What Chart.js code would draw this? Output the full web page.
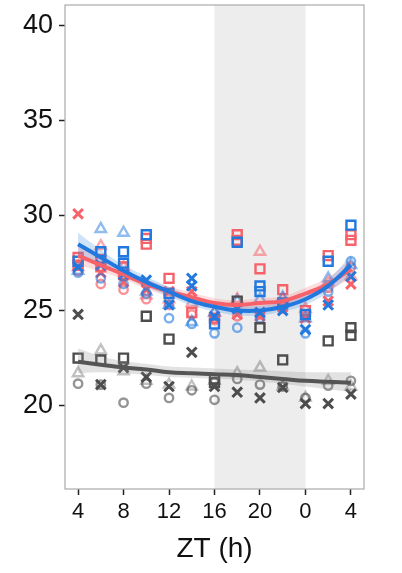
<!DOCTYPE html>
<html>
<head>
<meta charset="utf-8">
<script src="https://cdn.jsdelivr.net/npm/chart.js@4"></script>
<style>
  html, body { margin: 0; padding: 0; background: #fff; }
  #wrap { width: 402px; height: 573px; }
</style>
</head>
<body>
<div id="wrap"><canvas id="myChart" width="402" height="573"></canvas></div>
<script>
// time of day in hours (4 .. 28, 28 shown as 4 again) //
const hours = [4, 6, 8, 10, 12, 14, 16, 18, 20, 22, 24, 26, 28];
const xTicks = [4, 8, 12, 16, 20, 24, 28];
const yTicks = [20, 25, 30, 35, 40];

// blue group, one pair of arrays per marker shape //
const blueTriX = [4, 6, 8, 10, 12, 14, 16, 18, 20, 22, 24, 26, 28];
const blueTriY = [27.1, 29.3, 29.1, 26.0, 25.3, 24.4, 24.9, 25.5, 25.6, 25.7, 24.6, 26.7, 27.4];
const blueSqX = [4, 6, 8, 8, 10, 12, 16, 18, 20, 20, 22, 24, 26, 28];
const blueSqY = [27.6, 28.1, 28.1, 27.5, 29.0, 25.9, 24.3, 28.6, 26.3, 26.0, 25.4, 24.8, 27.6, 29.5];
const blueXX = [4, 6, 8, 10, 12, 14, 14, 16, 18, 20, 22, 24, 26, 28];
const blueXY = [27.3, 27.4, 26.9, 26.6, 25.3, 26.7, 26.3, 24.7, 25.1, 24.9, 25.0, 24.0, 25.3, 26.8];
const blueCirX = [4, 6, 8, 10, 12, 14, 16, 18, 20, 22, 24, 26, 28];
const blueCirY = [27.0, 26.7, 26.4, 25.9, 24.6, 24.3, 23.8, 24.1, 24.6, 25.3, 23.8, 26.0, 27.6];

// red group //
const redTriX = [4, 6, 8, 10, 12, 14, 16, 18, 20, 22, 24, 26, 28];
const redTriY = [27.3, 28.4, 27.3, 25.8, 25.6, 25.4, 24.9, 25.6, 28.1, 25.6, 25.1, 26.5, 26.8];
const redSqX = [4, 4, 6, 6, 8, 8, 10, 10, 12, 14, 16, 18, 18, 20, 22, 24, 26, 28, 28];
const redSqY = [27.8, 27.4, 27.7, 27.3, 27.3, 26.9, 28.8, 28.5, 26.7, 24.9, 24.6, 29.0, 28.7, 27.2, 26.1, 25.0, 27.9, 29.0, 28.7];
const redXX = [4, 6, 8, 10, 12, 14, 16, 18, 20, 22, 24, 26, 28];
const redXY = [30.1, 27.0, 26.5, 26.1, 26.0, 26.0, 24.6, 24.8, 24.7, 25.2, 24.6, 25.5, 26.4];
const redCirX = [4, 6, 8, 10, 12, 14, 16, 18, 20, 22, 24, 26, 28];
const redCirY = [27.1, 26.4, 26.1, 25.6, 25.3, 24.8, 24.5, 24.7, 24.8, 25.1, 24.7, 26.2, 27.3];

// gray group //
const grayTriX = [4, 6, 8, 10, 12, 14, 16, 18, 20, 22, 24, 26, 28];
const grayTriY = [21.7, 22.9, 21.8, 21.3, 21.1, 21.0, 21.3, 21.7, 22.0, 21.0, 20.4, 21.3, 21.0];
const graySqX = [4, 6, 8, 10, 12, 16, 16, 18, 20, 22, 26, 28, 28];
const graySqY = [22.5, 22.4, 22.5, 24.7, 23.5, 21.4, 21.2, 25.5, 24.1, 22.4, 23.4, 24.1, 23.7];
const grayXX = [4, 6, 8, 10, 12, 14, 16, 18, 20, 22, 24, 26, 28];
const grayXY = [24.8, 21.1, 22.0, 21.5, 21.0, 22.8, 21.0, 20.7, 20.4, 20.95, 20.1, 20.1, 20.6];
const grayCirX = [4, 6, 8, 10, 12, 14, 16, 18, 20, 22, 24, 26, 28];
const grayCirY = [21.15, 21.1, 20.15, 21.15, 20.4, 20.8, 20.3, 21.4, 21.1, 21.0, 20.4, 21.05, 21.3];

// smoothed fits and their bands, read at each hour //
const blueFit = [28.5, 27.8, 27.1, 26.5, 26.0, 25.5, 25.2, 25.0, 25.0, 25.2, 25.6, 26.3, 27.4];
const blueUp = [29.1, 28.2, 27.4, 26.8, 26.25, 25.75, 25.45, 25.25, 25.25, 25.45, 25.9, 26.65, 27.9];
const blueLo = [27.9, 27.4, 26.8, 26.25, 25.75, 25.25, 24.95, 24.75, 24.75, 24.95, 25.3, 25.95, 26.9];
const redFit = [27.9, 27.4, 26.9, 26.4, 26.0, 25.7, 25.4, 25.3, 25.4, 25.5, 25.9, 26.4, 27.2];
const redUp = [28.4, 27.75, 27.15, 26.65, 26.25, 25.95, 25.65, 25.55, 25.65, 25.75, 26.2, 26.75, 27.7];
const redLo = [27.4, 27.05, 26.65, 26.15, 25.75, 25.45, 25.15, 25.05, 25.15, 25.25, 25.6, 26.05, 26.7];
const grayFit = [22.3, 22.15, 22.0, 21.9, 21.75, 21.7, 21.65, 21.6, 21.5, 21.4, 21.3, 21.25, 21.2];
const grayUp = [23.0, 22.6, 22.35, 22.2, 22.05, 22.0, 21.95, 21.9, 21.85, 21.8, 21.75, 21.75, 21.75];
const grayLo = [21.7, 21.75, 21.7, 21.6, 21.5, 21.45, 21.4, 21.35, 21.25, 21.15, 21.0, 20.85, 20.7];

// dark phase shading //
const darkStart = 16;
const darkEnd = 24;

function pairs(xs, ys) {
  return xs.map(function (x, i) { return { x: x, y: ys[i] }; });
}

// marker sizes per shape (chart.js radius) //
const markerRadius = { triangle: 6, rect: 6.3, crossRot: 6.8, circle: 4.2 };

// points dataset //
function pts(xs, ys, shape, color) {
  return {
    type: "scatter",
    data: pairs(xs, ys),
    pointStyle: shape,
    pointRadius: markerRadius[shape],
    pointBorderWidth: shape === "crossRot" ? 3 : 2.4,
    pointBorderColor: color,
    pointBackgroundColor: "rgba(0,0,0,0)",
    showLine: false,
    order: 5
  };
}

function fitLine(ys, color) {
  return {
    type: "line",
    data: pairs(hours, ys),
    borderColor: color,
    borderWidth: 4,
    pointRadius: 0,
    tension: 0.4,
    fill: false,
    order: 1
  };
}

function band(up, lo, color) {
  return [
    { type: "line", data: pairs(hours, up), borderWidth: 0, pointRadius: 0, tension: 0.4,
      backgroundColor: color, fill: "+1", order: 2 },
    { type: "line", data: pairs(hours, lo), borderWidth: 0, pointRadius: 0, tension: 0.4,
      fill: false, order: 2 }
  ];
}

const blue = "#2179df", blueLight = "rgba(33,121,223,0.5)", blueMid = "rgba(33,121,223,0.6)";
const red = "#f7626a", redLight = "rgba(247,98,106,0.55)", redMid = "rgba(247,98,106,0.7)";
const gray = "#4d4d4d", grayLight = "rgba(77,77,77,0.35)", grayMid = "rgba(77,77,77,0.6)";

const datasets = [
  pts(grayTriX, grayTriY, "triangle", grayLight),
  pts(grayCirX, grayCirY, "circle", grayMid),
  pts(graySqX, graySqY, "rect", gray),
  pts(grayXX, grayXY, "crossRot", gray),
  pts(blueTriX, blueTriY, "triangle", blueLight),
  pts(blueCirX, blueCirY, "circle", blueMid),
  pts(blueSqX, blueSqY, "rect", blue),
  pts(blueXX, blueXY, "crossRot", blue),
  pts(redTriX, redTriY, "triangle", redLight),
  pts(redCirX, redCirY, "circle", redMid),
  pts(redSqX, redSqY, "rect", red),
  pts(redXX, redXY, "crossRot", red)
].concat(
  band(grayUp, grayLo, "rgba(140,140,140,0.25)"),
  band(blueUp, blueLo, "rgba(33,121,223,0.22)"),
  band(redUp, redLo, "rgba(247,98,106,0.22)"),
  [fitLine(grayFit, "#555555"), fitLine(blueFit, blue), fitLine(redFit, red)]
);

// background shading + panel border //
const panelPlugin = {
  id: "panel",
  beforeDatasetsDraw: function (chart) {
    const ctx = chart.ctx, a = chart.chartArea, xs = chart.scales.x;
    const x0 = xs.getPixelForValue(darkStart), x1 = xs.getPixelForValue(darkEnd);
    ctx.save();
    ctx.fillStyle = "#ededed";
    ctx.fillRect(x0, a.top, x1 - x0, a.bottom - a.top);
    ctx.restore();
  },
  afterDraw: function (chart) {
    const ctx = chart.ctx, a = chart.chartArea;
    ctx.save();
    ctx.strokeStyle = "#ababab";
    ctx.lineWidth = 1.2;
    ctx.strokeRect(a.left, a.top, a.right - a.left, a.bottom - a.top);
    ctx.restore();
  }
};

new Chart("myChart", {
  data: { datasets: datasets },
  plugins: [panelPlugin],
  options: {
    responsive: false,
    animation: false,
    layout: { autoPadding: false, padding: { top: 5, right: 38, left: 0, bottom: 0 } },
    plugins: {
      legend: { display: false },
      tooltip: { enabled: false },
      filler: { drawTime: "beforeDatasetDraw" }
    },
    scales: {
      x: {
        type: "linear",
        min: 2.85,
        max: 29.15,
        afterBuildTicks: function (axis) {
          axis.ticks = xTicks.map(function (v) { return { value: v }; });
        },
        afterFit: function (axis) {
          axis.height = 84;
          axis.paddingLeft = 0;
          axis.paddingRight = 0;
        },
        grid: { display: true, drawOnChartArea: false, drawTicks: true, tickLength: 6, tickWidth: 1.5, tickColor: "#222" },
        border: { display: false },
        ticks: {
          color: "#111",
          font: { family: "Liberation Sans", size: 22 },
          padding: 4,
          maxRotation: 0,
          callback: function (v) { return String(v % 24); }
        },
        title: {
          display: true,
          text: "ZT (h)",
          color: "#111",
          font: { family: "Liberation Sans", size: 28 },
          padding: { top: 0, bottom: 7 }
        }
      },
      y: {
        min: 15.6,
        max: 41.1,
        afterBuildTicks: function (axis) {
          axis.ticks = yTicks.map(function (v) { return { value: v }; });
        },
        afterFit: function (axis) {
          axis.width = 65;
          axis.paddingTop = 0;
          axis.paddingBottom = 0;
        },
        grid: { display: true, drawOnChartArea: false, drawTicks: true, tickLength: 6, tickWidth: 1.5, tickColor: "#222" },
        border: { display: false },
        ticks: {
          color: "#111",
          font: { family: "Liberation Sans", size: 27 },
          padding: 6
        }
      }
    }
  }
});
</script>
</body>
</html>
